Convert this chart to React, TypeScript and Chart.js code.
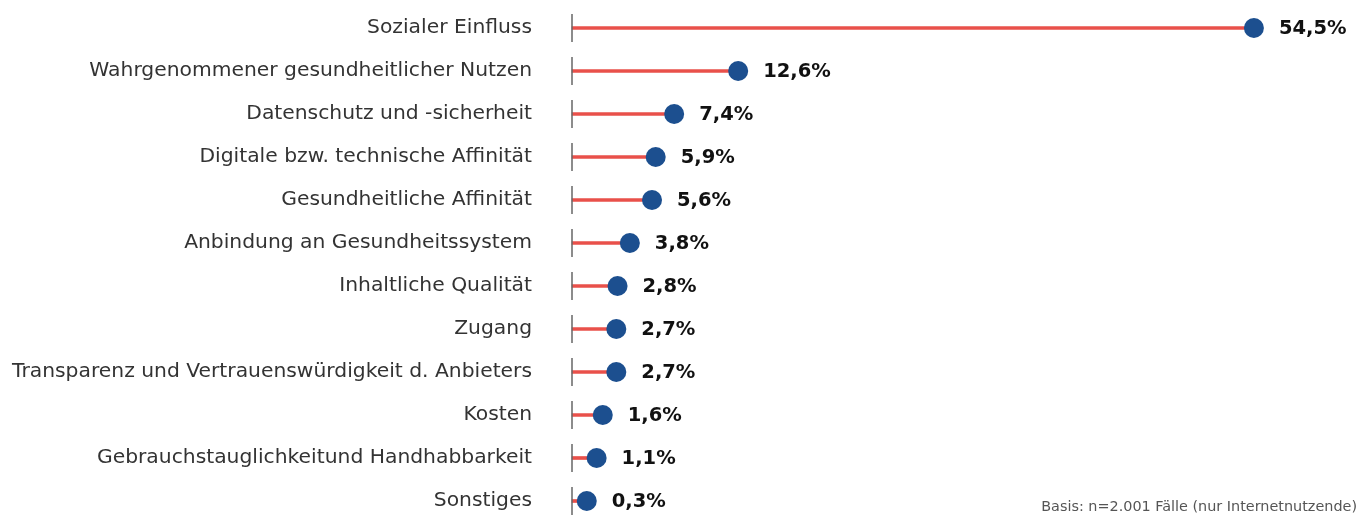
import React, { useEffect, useRef } from "react";
import { Chart, registerables } from "chart.js";

Chart.register(...registerables);

const categories = [
  "Sozialer Einfluss",
  "Wahrgenommener gesundheitlicher Nutzen",
  "Datenschutz und -sicherheit",
  "Digitale bzw. technische Affinität",
  "Gesundheitliche Affinität",
  "Anbindung an Gesundheitssystem",
  "Inhaltliche Qualität",
  "Zugang",
  "Transparenz und Vertrauenswürdigkeit d. Anbieters",
  "Kosten",
  "Gebrauchstauglichkeitund Handhabbarkeit",
  "Sonstiges",
];
const values = [54.5, 12.6, 7.4, 5.9, 5.6, 3.8, 2.8, 2.7, 2.7, 1.6, 1.1, 0.3];
const valueLabels = ["54,5%", "12,6%", "7,4%", "5,9%", "5,6%", "3,8%", "2,8%", "2,7%", "2,7%", "1,6%", "1,1%", "0,3%"];
const footnote = "Basis: n=2.001 Fälle (nur Internetnutzende)";

const X_MIN = -0.9;
const X_MAX = 62.55;

const segmentsPlugin = {
  id: "segments",
  afterDatasetsDraw(chart: any) {
    const ctx = chart.ctx;
    const y = chart.scales.y;
    const left = chart.chartArea.left;
    ctx.save();
    ctx.strokeStyle = "#666666";
    ctx.lineWidth = 1.5;
    categories.forEach((_, i) => {
      const py = y.getPixelForValue(i);
      ctx.beginPath();
      ctx.moveTo(left, py - 14);
      ctx.lineTo(left, py + 14);
      ctx.stroke();
    });
    ctx.restore();
  },
};

const valueLabelPlugin = {
  id: "valueLabels",
  afterDatasetsDraw(chart: any) {
    const ctx = chart.ctx;
    const meta = chart.getDatasetMeta(1);
    ctx.save();
    ctx.font = "bold 19.5px 'DejaVu Sans'";
    ctx.fillStyle = "#111111";
    ctx.textAlign = "left";
    ctx.textBaseline = "middle";
    meta.data.forEach((pt: any, i: number) => {
      ctx.fillText(valueLabels[i], pt.x + 25, pt.y + 1);
    });
    ctx.restore();
  },
};

export default function App() {
  const ref = useRef<HTMLCanvasElement>(null);
  useEffect(() => {
    document.body.style.margin = "0";
    const chart = new Chart(ref.current!, {
      type: "bar",
      data: {
        labels: categories,
        datasets: [
          {
            type: "bar",
            data: values,
            base: X_MIN,
            backgroundColor: "#e9504a",
            barThickness: 3,
            borderWidth: 0,
            clip: false,
            order: 2,
          } as any,
          {
            type: "line",
            indexAxis: "y",
            data: values,
            showLine: false,
            pointRadius: 10,
            pointHoverRadius: 10,
            pointBackgroundColor: "#1c4f8f",
            pointBorderWidth: 0,
            clip: false,
            order: 1,
          } as any,
        ],
      },
      options: {
        indexAxis: "y",
        animation: false,
        responsive: true,
        maintainAspectRatio: false,
        layout: { padding: { top: 28, bottom: 14, left: 0, right: 0 } },
        plugins: { legend: { display: false }, tooltip: { enabled: false } },
        scales: {
          x: { display: false, min: X_MIN, max: X_MAX },
          y: {
            offset: false,
            grid: { display: false, drawTicks: false },
            border: { display: false },
            ticks: {
              padding: 40,
              color: "#333333",
              font: { family: "'DejaVu Sans'", size: 20.3 },
            },
            afterFit: (scale: any) => {
              scale.width = 572;
              scale.paddingTop = 0;
              scale.paddingBottom = 0;
            },
          },
        },
      },
      plugins: [segmentsPlugin, valueLabelPlugin],
    });
    return () => chart.destroy();
  }, []);
  return (
    <div style={{ position: "fixed", left: 0, top: 0, width: 1363, height: 515, background: "#fff" }}>
      <canvas ref={ref} />
      <div
        style={{
          position: "absolute",
          right: 6,
          top: 498,
          fontFamily: "'DejaVu Sans'",
          fontSize: 14.4,
          color: "#555555",
          whiteSpace: "nowrap",
        }}
      >
        {footnote}
      </div>
    </div>
  );
}
